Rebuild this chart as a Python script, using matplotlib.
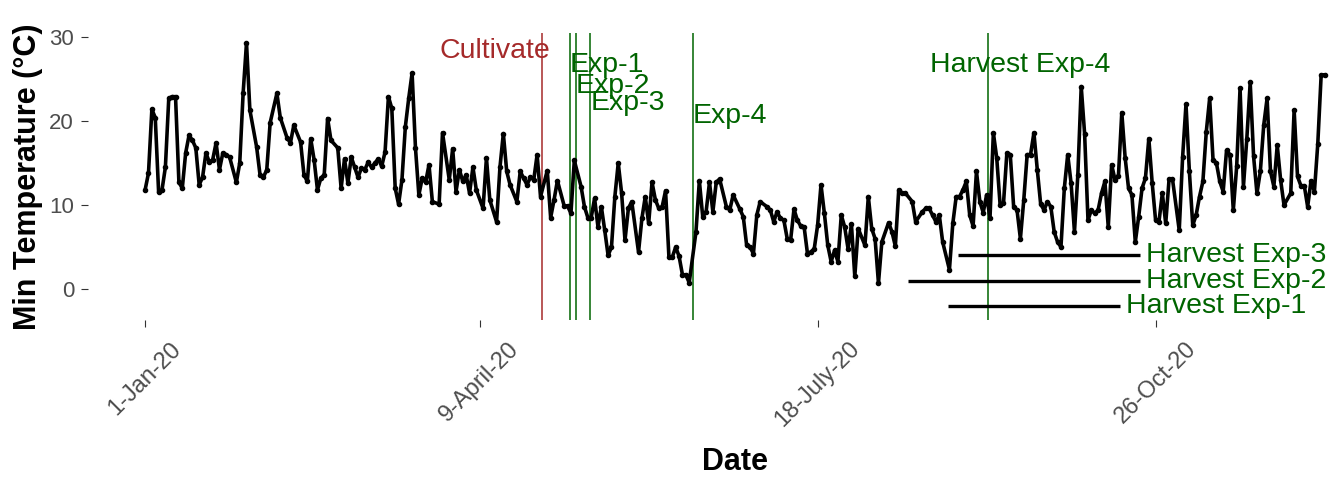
import matplotlib
matplotlib.use('Agg')
from matplotlib import pyplot as plt

plt.rcParams['font.family'] = ['Liberation Sans', 'DejaVu Sans']

# days since 1 Jan 2020 and daily minimum temperature (deg C)
day = [0, 1, 2, 3, 4, 5, 6, 7, 8, 9, 10, 11, 12, 13, 14, 15, 16, 17, 18, 19,
       20, 21, 22, 23, 24, 25, 27, 28, 29, 30, 31, 33, 34, 35, 36, 37, 39, 40, 42, 43,
       44, 46, 47, 48, 49, 50, 51, 52, 53, 54, 55, 57, 58, 59, 60, 61, 62, 63, 64, 65,
       66, 67, 68, 69, 70, 71, 72, 73, 74, 75, 76, 77, 78, 79, 80, 81, 82, 83, 84, 85,
       87, 88, 90, 91, 92, 93, 94, 95, 96, 97, 98, 100, 101, 102, 104, 105, 106, 107, 108, 110,
       111, 112, 113, 114, 115, 116, 117, 119, 120, 121, 122, 124, 125, 126, 127, 129, 130, 131, 132, 133,
       134, 135, 136, 137, 138, 139, 140, 141, 142, 143, 144, 146, 147, 148, 149, 150, 151, 152, 153, 154,
       155, 156, 157, 158, 159, 160, 161, 163, 164, 165, 166, 167, 168, 169, 170, 172, 173, 174, 176, 177,
       178, 179, 180, 181, 182, 184, 185, 186, 187, 188, 189, 190, 191, 192, 193, 194, 195, 196, 197, 198,
       199, 200, 201, 202, 203, 204, 205, 206, 207, 208, 209, 210, 211, 213, 214, 215, 216, 217, 218, 220,
       221, 222, 223, 224, 225, 227, 228, 230, 231, 232, 233, 234, 235, 236, 238, 239, 240, 241, 242, 243,
       244, 245, 246, 247, 248, 249, 250, 251, 252, 253, 254, 255, 256, 257, 258, 259, 260, 261, 262, 263,
       264, 265, 266, 267, 268, 269, 270, 271, 272, 273, 274, 275, 276, 277, 278, 279, 280, 281, 282, 283,
       284, 285, 286, 287, 288, 289, 290, 291, 292, 293, 294, 295, 296, 297, 298, 299, 300, 301, 302, 303,
       304, 306, 307, 308, 309, 310, 311, 312, 313, 314, 315, 316, 317, 318, 319, 320, 321, 322, 323, 324,
       325, 326, 327, 328, 329, 330, 331, 332, 333, 334, 335, 336, 337, 339, 340, 341, 342, 343, 344, 345,
       346, 347, 348, 349]
tmin = [11.8, 13.8, 21.4, 20.4, 11.5, 11.8, 14.5, 22.7, 22.9, 22.9, 12.7, 12.0, 16.2, 18.3, 17.7, 16.8, 12.4, 13.3, 16.2, 15.1,
        15.4, 17.4, 14.2, 16.2, 16.0, 15.7, 12.7, 15.0, 23.3, 29.3, 21.3, 16.9, 13.6, 13.3, 14.2, 19.8, 23.3, 20.4, 18.0, 17.4,
        19.5, 17.5, 13.6, 12.8, 17.9, 15.4, 11.8, 13.2, 13.6, 20.3, 17.7, 16.8, 12.0, 15.5, 12.6, 15.7, 14.5, 13.3, 14.4, 14.2,
        15.1, 14.5, 15.0, 15.5, 14.6, 16.3, 22.9, 21.5, 12.0, 10.1, 13.0, 19.3, 22.7, 25.7, 16.8, 11.2, 13.2, 12.7, 14.8, 10.4,
        10.1, 18.6, 13.0, 16.7, 11.6, 14.2, 12.8, 13.6, 11.4, 14.5, 11.8, 9.6, 15.6, 10.6, 8.0, 14.5, 18.5, 14.0, 12.4, 10.4,
        14.0, 13.2, 12.4, 13.3, 13.0, 16.0, 11.0, 14.1, 8.5, 10.6, 12.9, 9.9, 9.9, 9.0, 15.3, 12.2, 9.8, 8.5, 8.5, 10.8,
        7.4, 9.8, 7.0, 4.0, 5.0, 11.0, 15.0, 11.4, 5.8, 9.6, 10.4, 4.4, 8.4, 11.0, 7.8, 12.7, 10.6, 9.6, 9.8, 11.7,
        3.8, 3.8, 5.0, 3.9, 1.7, 1.7, 0.75, 6.8, 12.9, 8.6, 9.2, 12.7, 9.2, 12.7, 13.1, 9.8, 9.4, 11.2, 9.5, 8.6,
        5.2, 5.0, 4.2, 8.8, 10.4, 9.8, 9.4, 8.0, 9.2, 8.4, 8.2, 6.0, 5.8, 9.5, 8.2, 7.5, 7.4, 4.2, 4.4, 4.8,
        7.6, 12.4, 9.0, 5.2, 3.25, 4.6, 3.25, 8.8, 7.4, 4.8, 7.7, 1.5, 7.2, 5.2, 11.0, 7.2, 6.0, 0.7, 5.6, 7.9,
        6.8, 5.1, 11.8, 11.4, 11.4, 10.4, 8.0, 9.2, 9.6, 9.6, 8.8, 8.0, 8.8, 5.6, 2.3, 7.8, 11.0, 11.0, 11.8, 12.8,
        8.8, 7.5, 14.0, 10.4, 9.1, 11.2, 8.4, 18.6, 15.6, 10.0, 10.2, 16.2, 16.0, 9.8, 9.4, 6.0, 10.6, 16.0, 16.0, 18.6,
        14.2, 10.1, 9.4, 10.4, 9.8, 6.8, 5.6, 5.0, 12.0, 16.0, 12.6, 6.8, 13.6, 24.1, 18.5, 8.2, 9.4, 9.0, 9.4, 11.4,
        12.8, 7.4, 14.8, 13.0, 13.4, 21.0, 15.6, 12.0, 11.2, 5.6, 8.6, 12.0, 13.2, 17.9, 12.6, 8.2, 8.0, 11.4, 7.8, 13.1,
        13.1, 7.0, 15.7, 22.0, 14.0, 7.6, 8.8, 11.0, 12.8, 18.7, 22.7, 15.4, 15.0, 12.8, 11.6, 16.5, 16.0, 9.4, 14.6, 23.9,
        12.2, 17.9, 24.6, 15.8, 11.4, 14.0, 19.5, 22.7, 14.0, 12.2, 17.1, 13.0, 10.0, 11.4, 21.3, 13.4, 12.3, 12.3, 9.8, 12.9,
        11.6, 17.3, 25.5, 25.5]

# sowing / experiment start dates (days since 1 Jan 2020)
event_names = ['Cultivate', 'Exp-1', 'Exp-2', 'Exp-3', 'Exp-4', 'Harvest Exp-4']
event_days = [117.5, 125.7, 127.4, 131.7, 162.0, 249.4]
event_colors = ['#A52A2A', '#006400', '#006400', '#006400', '#006400', '#006400']
label_x = [119.8, 125.7, 127.4, 131.7, 162.0, 259.0]
label_y = [28.3, 26.65, 24.2, 22.2, 20.6, 26.65]
label_ha = ['right', 'left', 'left', 'left', 'left', 'center']

# harvest windows
harvest_names = ['Harvest Exp-3', 'Harvest Exp-2', 'Harvest Exp-1']
harvest_start = [240.5, 225.7, 237.6]
harvest_end = [294.4, 294.4, 288.5]
harvest_level = [4, 1, -2]

tick_days = [0, 99, 199, 299]
tick_labels = ['1-Jan-20', '9-April-20', '18-July-20', '26-Oct-20']

W, H = 1335, 484
fig = plt.figure(figsize=(W / 100, H / 100), dpi=100)
ax = fig.add_axes([88 / W, 1 - 320 / H, (1382 - 88) / W, (320 - 33) / H])

for name, d, c, tx, ty, ha in zip(event_names, event_days, event_colors, label_x, label_y, label_ha):
    ax.axvline(d, color=c, lw=1.1, zorder=1)
    ax.text(tx, ty, name, color=c, fontsize=20.5, ha=ha, va='center', zorder=4)

ax.plot(day, tmin, color='black', lw=2.6, marker='o', ms=3, zorder=3)

for name, x0, x1, lev in zip(harvest_names, harvest_start, harvest_end, harvest_level):
    ax.plot([x0, x1], [lev, lev], color='black', lw=2.4, solid_capstyle='butt', zorder=3)
    ax.text(x1 + 1.8, lev, name, color='#006400', fontsize=20.5, ha='left', va='center', zorder=4)

ax.set_xlim(-16.9, 366.0)
ax.set_ylim(-3.69, 30.48)
ax.set_yticks([0, 10, 20, 30])
ax.set_xticks(tick_days)
ax.set_xticklabels(tick_labels, rotation=45, ha='center', va='top', fontsize=17)

for s in ax.spines.values():
    s.set_visible(False)
ax.set_facecolor('white')
ax.tick_params(axis='both', colors='#333333', labelcolor='#4D4D4D', length=5, width=0.8)
ax.tick_params(axis='y', labelsize=16, pad=5)
ax.tick_params(axis='x', pad=8)

ax.set_xlabel('Date', fontsize=22, fontweight='bold', va='baseline')
ax.xaxis.set_label_coords(0.5, (320 - 470) / 287)
ax.set_ylabel('Min Temperature (°C)', fontsize=22, fontweight='bold', va='baseline')
ax.yaxis.set_label_coords((36.5 - 88) / 1294, 0.5)

fig.savefig('out.png', dpi=100)
